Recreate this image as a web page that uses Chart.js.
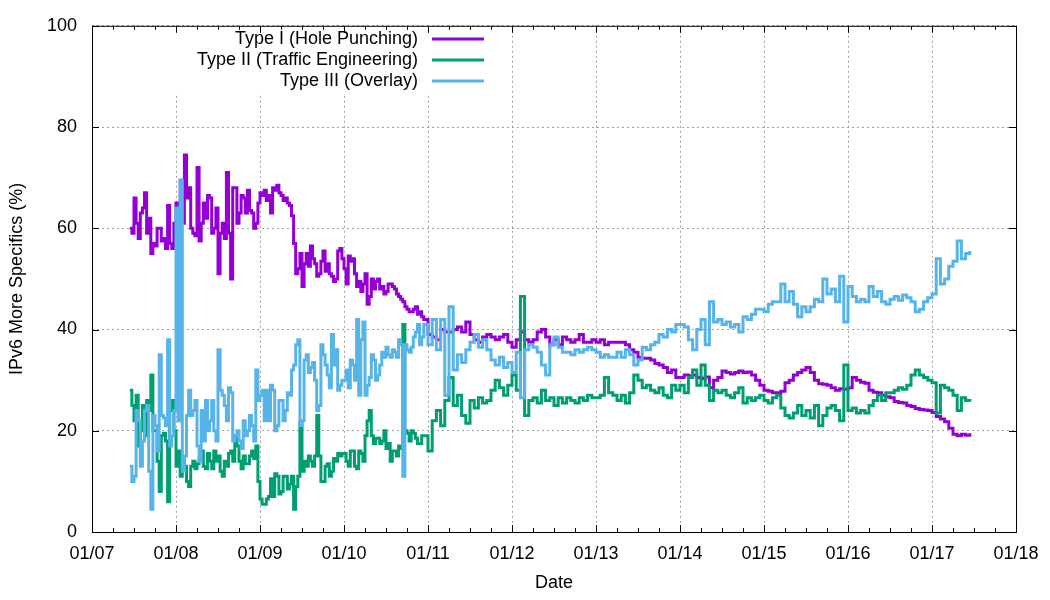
<!DOCTYPE html>
<html>
<head>
<meta charset="utf-8">
<title>IPv6 more specifics</title>
<script src="https://cdn.jsdelivr.net/npm/chart.js@4.4.0/dist/chart.umd.min.js"></script>
<style>
  html, body { margin: 0; padding: 0; background: #fff; }
  canvas { display: block; }
</style>
</head>
<body>
<canvas id="moreSpecificsChart" width="1050" height="600"></canvas>
<script>
// sampling: the noisy first years every 0.025 year, the rest every 0.05 year
const denseStart = 2007.45, denseStep = 0.025, denseCount = 140;
const sparseStart = 2010.95, sparseStep = 0.05;

// Type I (Hole Punching), % of IPv6 more specifics
const typeOne = [
  60, 59, 66, 61, 58, 63, 64, 67, 59, 62,
  55, 57, 56.5, 60, 60, 57.5, 58, 56, 64.5, 57,
  56, 61, 65, 57, 69.5, 61, 74.5, 66, 68, 60,
  59, 58.5, 72, 57.5, 61, 65, 62, 66.5, 66, 59,
  60, 64, 51, 59, 61, 58, 71, 59, 50, 68,
  68, 61, 63, 66.5, 66, 63, 67.5, 63.5, 63, 60,
  61, 65, 67, 66.5, 67.5, 65.5, 66.5, 63, 68, 67.5,
  68.5, 67, 66.5, 65.5, 66, 65, 64.5, 62.5, 57, 51,
  52, 55, 48.5, 53, 55, 52.5, 56.5, 54, 53, 50.5,
  51, 53.5, 55.5, 51.5, 53, 51, 50.5, 49.5, 50, 55.5,
  56, 54, 52, 49, 54.5, 53.5, 54, 51, 48.5, 49.5,
  47.5, 49, 51, 45, 46.5, 50, 48, 49.5, 50, 48,
  48.5, 47, 47.5, 49, 49, 48.5, 48, 47, 46.5, 46,
  45.5, 44.5, 44, 43.5, 43.5, 44, 44.5, 43, 43.5, 42.5,
  42, 39, 38.5, 38, 40, 39.5, 39.5, 40, 40.5, 39.5,
  41.5, 39, 38, 37.5, 38.5, 39, 38.5, 38, 38.5, 39,
  37.5, 36.5, 38, 39.5, 38, 37.5, 38, 39.5, 40, 38.5,
  37, 38, 37, 38.5, 38, 37.5, 38, 39, 37.5, 37.5,
  38, 37.5, 38, 37, 37.5, 37.5, 37.5, 37.5, 37, 36,
  35.5, 34.5, 34.3, 34.3, 34, 33.3, 33, 32.5, 31.5, 32,
  30.5, 30.5, 31, 30.8, 31, 30.5, 30.3, 30.6, 28.5, 30,
  30.5, 31.8, 31.5, 31.2, 31.5, 31.8, 31.5, 31.6, 31, 30,
  29, 28, 27.8, 27.5, 27.5, 27.8, 29.5, 30, 31, 31.5,
  32, 32.5, 31.5, 30, 29.3, 29.2, 29, 28.5, 28, 28.3,
  28.2, 28.5, 30.5, 30, 29.6, 29.4, 28, 27.6, 27.5, 27,
  26.7, 26.5, 25.8, 25.6, 25.5, 25, 24.8, 24.4, 24.2, 24.1,
  24, 23.6, 22.8, 22.3, 21.8, 20.5, 19.3, 19, 19.3, 19.1, 19.5
];

// Type II (Traffic Engineering)
const typeTwo = [
  28, 25, 22, 27, 17, 20, 25, 19, 26, 24,
  31, 20, 20, 14, 8, 19, 19.5, 18, 6, 24,
  26, 20, 13, 16, 11, 14.5, 13, 10, 9, 13,
  14, 12.5, 13.5, 14.5, 16, 13, 12.5, 15.5, 14, 12.5,
  16, 14, 15, 12, 11, 14, 13, 15.5, 16, 14,
  19, 17, 14, 12.5, 15, 13.5, 13.5, 15, 16, 14.5,
  17, 10, 6.5, 5.5, 5.5, 6.5, 7, 10.5, 7, 11.5,
  11, 7.5, 8, 11, 11, 8.5, 9.5, 11, 4.5, 9,
  11, 21.5, 12, 14, 13, 15, 14, 13, 15, 23,
  15, 10, 10, 13, 13.5, 11, 12, 14.5, 14, 15.5,
  15, 15.5, 15.5, 14, 13, 16, 16, 13, 12.5, 16,
  15.5, 14, 19, 22, 24, 19, 17.5, 18.5, 18.5, 17.5,
  18, 20, 16.5, 17.5, 14, 16, 16, 15, 17, 16.5,
  41, 20, 19.5, 18, 20, 19.5, 18.5, 17.5, 17.5, 19,
  19, 16, 22, 24, 21, 26, 30.5, 25, 27, 23,
  21.5, 26, 24.5, 26.5, 25.5, 26, 28, 30, 28.5, 27,
  29, 31, 28, 46.5, 23, 26, 26.5, 25.5, 28, 26,
  26.5, 25, 26.5, 25.5, 26.5, 26, 25.5, 26.5, 26, 27,
  26.5, 26.5, 27, 30.5, 27.5, 27, 26, 27, 25.5, 27.5,
  31, 30, 28.5, 29, 28, 27.5, 28.5, 27, 26.5, 29,
  28, 29, 27.5, 30.5, 32, 29, 33, 29, 26, 28,
  27.5, 28, 27, 26.5, 27.5, 28.5, 25.5, 26.5, 26, 26.5,
  27, 26, 25.5, 26.5, 27, 24.5, 23, 22.5, 23.5, 25,
  23, 24, 22.5, 25, 21, 23, 24.5, 25, 24, 22,
  33, 24, 24.5, 23.5, 24, 23.5, 25, 26, 27, 26,
  27.5, 27.5, 28, 28.5, 28.2, 29, 31, 32, 31, 30.5,
  30, 29.5, 23.5, 29, 28.5, 28, 27, 24, 26.5, 26, 25.8
];

// Type III (Overlay)
const typeThree = [
  13, 10, 11, 24, 22, 13, 18, 24, 25, 12,
  4.5, 23, 21, 16, 35, 23, 22.5, 21, 38, 17,
  19, 24, 64, 22, 69.5, 12, 15, 23, 28, 23,
  24, 26, 17, 14, 24, 18, 26, 20, 22, 26,
  20, 18, 36, 28, 27, 25, 22, 28.5, 27.5, 18,
  19, 20, 18, 16.5, 22, 19, 20, 23, 21, 18,
  32, 26, 27, 28, 22, 28, 22, 29, 28, 20,
  21, 26, 26, 22, 24, 27.5, 27, 32, 33, 37,
  38, 21, 22, 34, 35, 31.5, 32.5, 33.5, 30, 24,
  25, 37, 35, 33, 31, 28.5, 39, 33, 36, 28,
  29, 30, 30, 32, 28.5, 34, 33, 30, 42, 27,
  38, 41.5, 27, 29, 30.5, 35, 34, 30, 31, 33,
  35.5, 34.5, 36.5, 35, 34.5, 36, 35.5, 34.5, 38, 37,
  11, 37, 36, 35.5, 36.5, 38.5, 39.5, 41, 37, 38.5,
  41, 37, 42, 36, 42, 27, 44.5, 32, 35, 33.5,
  36, 37.5, 39, 36.5, 38, 36, 34, 33, 34.5, 32.5,
  33.5, 31.5, 35.5, 26.5, 36, 37, 36.5, 35.5, 33, 31,
  37, 38.5, 36.5, 35.5, 35.5, 35, 36, 35.5, 36, 36.5,
  36, 35.5, 34.5, 35, 34.5, 34.5, 35.5, 34.5, 36, 35,
  33, 34, 36.5, 36, 37, 37.5, 39, 38.5, 40, 39.5,
  41, 41, 40.5, 38, 36, 40, 42, 37, 45.5, 41.5,
  42, 41, 41.5, 40.5, 41, 39.5, 42.5, 42, 43, 44,
  44, 43.5, 45, 45.5, 45.5, 49, 45.5, 47.5, 45, 42.5,
  44.5, 43.5, 44.5, 46, 45.5, 50, 47, 48, 45.5, 50.5,
  41.5, 48.5, 46.5, 45.5, 46, 45.5, 48.5, 46.5, 47.5, 45.5,
  45, 46, 46.5, 45.8, 46.8, 46.3, 45.5, 43.5, 44, 45.5,
  46.3, 47, 54, 49, 50, 52.5, 53.5, 57.5, 54, 55, 55.5
];

const seriesLabels = ['Type I (Hole Punching)', 'Type II (Traffic Engineering)', 'Type III (Overlay)'];
const seriesColors = ['#9400d3', '#009e73', '#56b4e9'];

const dates = typeOne.map((_, i) => +(i < denseCount
  ? denseStart + i * denseStep
  : sparseStart + (i - denseCount) * sparseStep).toFixed(3));
const toPoints = (values) => values.map((v, i) => ({ x: dates[i], y: v }));

const fontFamily = "'Liberation Sans', Arial, sans-serif";
Chart.defaults.font.family = fontFamily;
Chart.defaults.font.size = 18;
Chart.defaults.color = '#000';

// gnuplot style frame: inward ticks on all four sides, opaque key in the top left
const gnuplotFrame = {
  id: 'gnuplotFrame',
  afterDraw(chart) {
    const { ctx, chartArea: a, scales: { x, y } } = chart;
    ctx.save();

    // key
    ctx.fillStyle = '#fff';
    ctx.fillRect(100, a.top + 1, 395, 67);
    ctx.font = '18px ' + fontFamily;
    ctx.textAlign = 'right';
    ctx.textBaseline = 'middle';
    seriesLabels.forEach((label, i) => {
      const rowY = 39 + i * 21;
      ctx.fillStyle = '#000';
      ctx.fillText(label, 418, rowY);
      ctx.strokeStyle = seriesColors[i];
      ctx.lineWidth = 3;
      ctx.beginPath();
      ctx.moveTo(432, rowY);
      ctx.lineTo(484, rowY);
      ctx.stroke();
    });

    ctx.strokeStyle = '#000';
    ctx.lineWidth = 1;
    ctx.beginPath();
    for (let q = 0; q <= 44; q++) {
      const px = Math.round(x.getPixelForValue(2007 + q * 0.25)) + 0.5;
      const len = q % 4 === 0 ? 7 : 4;
      ctx.moveTo(px, a.bottom);
      ctx.lineTo(px, a.bottom - len);
      ctx.moveTo(px, a.top);
      ctx.lineTo(px, a.top + len);
    }
    for (let v = 0; v <= 100; v += 20) {
      const py = Math.round(y.getPixelForValue(v)) + 0.5;
      ctx.moveTo(a.left, py);
      ctx.lineTo(a.left + 7, py);
      ctx.moveTo(a.right, py);
      ctx.lineTo(a.right - 7, py);
    }
    ctx.stroke();
    ctx.strokeRect(a.left + 0.5, a.top + 0.5, a.right - a.left, a.bottom - a.top);
    ctx.restore();
  }
};

const lineSet = (i, values, order) => ({
  label: seriesLabels[i],
  data: toPoints(values),
  borderColor: seriesColors[i],
  backgroundColor: seriesColors[i],
  borderWidth: 3,
  pointRadius: 0,
  stepped: true,
  fill: false,
  order: order
});

new Chart(document.getElementById('moreSpecificsChart'), {
  type: 'line',
  data: {
    datasets: [
      lineSet(0, typeOne, 3),
      lineSet(1, typeTwo, 2),
      lineSet(2, typeThree, 1)
    ]
  },
  options: {
    responsive: false,
    animation: false,
    devicePixelRatio: 1,
    layout: { padding: { left: 0, right: 34, top: 22, bottom: 0 } },
    plugins: { legend: { display: false }, tooltip: { enabled: false } },
    scales: {
      x: {
        type: 'linear',
        min: 2007,
        max: 2018,
        afterFit: (s) => { s.height = 68; },
        ticks: {
          stepSize: 1,
          autoSkip: false,
          maxRotation: 0,
          padding: 11,
          callback: (v) => '01/' + String(Math.round(v)).slice(2)
        },
        grid: { color: '#a0a0a0', drawTicks: false },
        border: { display: false, dash: [2, 3] },
        title: { display: true, text: 'Date', padding: { top: 0, bottom: 6 } }
      },
      y: {
        min: 0,
        max: 100,
        afterFit: (s) => { s.width = 92; },
        ticks: { stepSize: 20, padding: 15 },
        grid: { color: '#a0a0a0', drawTicks: false },
        border: { display: false, dash: [2, 3] },
        title: { display: true, text: 'IPv6 More Specifics (%)', padding: { top: 6, bottom: 0 } }
      }
    }
  },
  plugins: [gnuplotFrame]
});
</script>
</body>
</html>
